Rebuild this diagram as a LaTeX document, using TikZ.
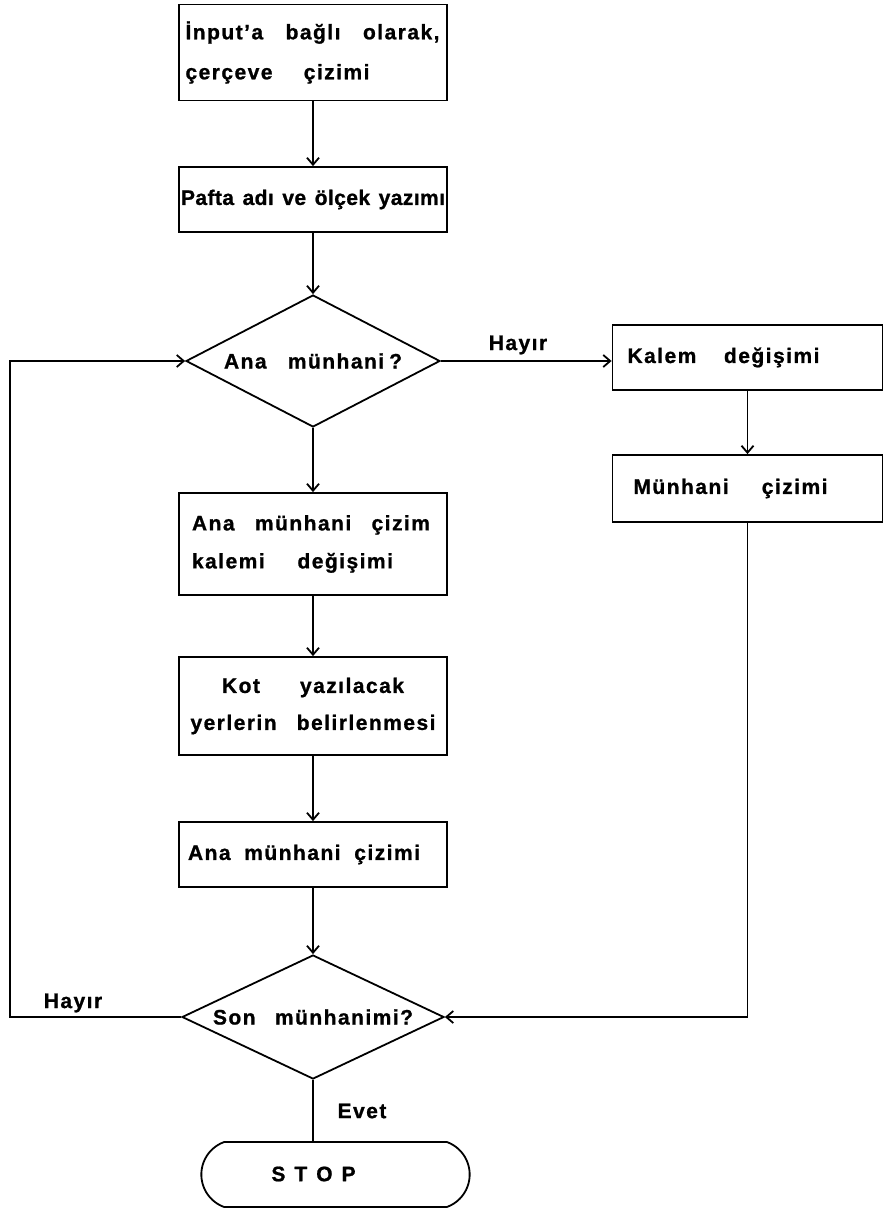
\documentclass[tikz,border=0pt]{standalone}
\usepackage{fontspec}
\setmainfont{Liberation Sans}[LetterSpace=7, BoldFeatures={FakeBold=1}]
\usetikzlibrary{shapes.geometric,shapes.misc,arrows.meta}
\newcommand{\fit}[2]{\makebox[#1pt][s]{\spaceskip=0.25em plus 1fil\relax#2}}
\begin{document}
\begin{tikzpicture}[x=1pt,y=-1pt,
  txt/.style={font=\bfseries\fontsize{21}{40}\selectfont, inner sep=0pt},
  box/.style={draw, line width=1.8pt, txt, minimum width=268pt},
  dec/.style={draw, diamond, line width=1.8pt, txt, shape aspect=1.95, inner sep=0pt},
  term/.style={draw, rounded rectangle, rounded rectangle arc length=140, line width=1.8pt, minimum width=275pt, minimum height=65pt},
  arr/.style={line width=1.8pt, -{Straight Barb[length=7pt,width=12pt]}},
  ln/.style={line width=1.8pt}]
\useasboundingbox (0,0) rectangle (889,1209);

\node[box, minimum height=96pt, text width=255pt, align=left] (b1) at (313,52.5) {\fit{254}{İnput'a bağlı olarak,}\\\fit{184}{çerçeve çizimi}\\[-8pt]};
\node[box, minimum height=65pt] (b2) at (313,199.5) {\addfontfeature{LetterSpace=2}\fit{264}{Pafta adı ve ölçek yazımı}};
\node[dec, minimum width=254pt, minimum height=132pt] (d1) at (313,361) {\fit{178}{Ana münhani\hspace{5pt}?}};
\node[box, minimum width=270pt, minimum height=65pt, text width=240pt, align=left] (kal) at (747.5,357.5) {\fit{192}{Kalem değişimi}};
\node[box, minimum width=270pt, minimum height=67pt, text width=228pt, align=left] (mun) at (747.5,488.5) {\fit{194}{Münhani çizimi}};
\node[box, minimum height=102pt, text width=242pt, align=left, font=\bfseries\fontsize{21}{38}\selectfont] (b3) at (313,544) {\fit{238}{Ana münhani çizim}\\\fit{201}{kalemi değişimi}};
\node[box, minimum height=98pt, align=center, font=\bfseries\fontsize{21}{37}\selectfont] (b4) at (313,706) {\fit{182}{Kot yazılacak}\\\fit{245}{yerlerin belirlenmesi}};
\node[box, minimum height=65pt, text width=250pt, align=left] (b5) at (313,854.5) {\fit{232}{Ana münhani çizimi}};
\node[dec, minimum width=262pt, minimum height=124pt] (d2) at (313,1017) {\fit{200}{Son münhanimi?}};
\node[term] (stop) at (335.5,1174.5) {};
\node[txt] (stoplbl) at (313.5,1174) {S\hspace{9pt}T\hspace{9pt}O\hspace{9pt}P};

\node[txt] (h1) at (518,345) {Hayır};
\node[txt] (h2) at (73,1003) {Hayır};
\node[txt] (ev) at (362,1111) {Evet};

\coordinate (lx) at (10,1017);

\draw[arr] (b1) -- (b2);
\draw[arr] (b2) -- (d1.north);
\draw[arr] (d1.east) -- (d1.east -| kal.west);
\draw[arr] (kal) -- (mun);
\draw[arr] (d1.south) -- (b3.north);
\draw[arr] (b3) -- (b4);
\draw[arr] (b4) -- (b5);
\draw[arr] (b5) -- (d2.north);
\draw[arr] (mun.south) |- (d2.east);
\draw[arr] (d2.west) -- (d2.west -| lx) |- (d1.west);
\draw[ln] (d2.south) -- (d2.south |- stop.north);
\end{tikzpicture}
\end{document}
